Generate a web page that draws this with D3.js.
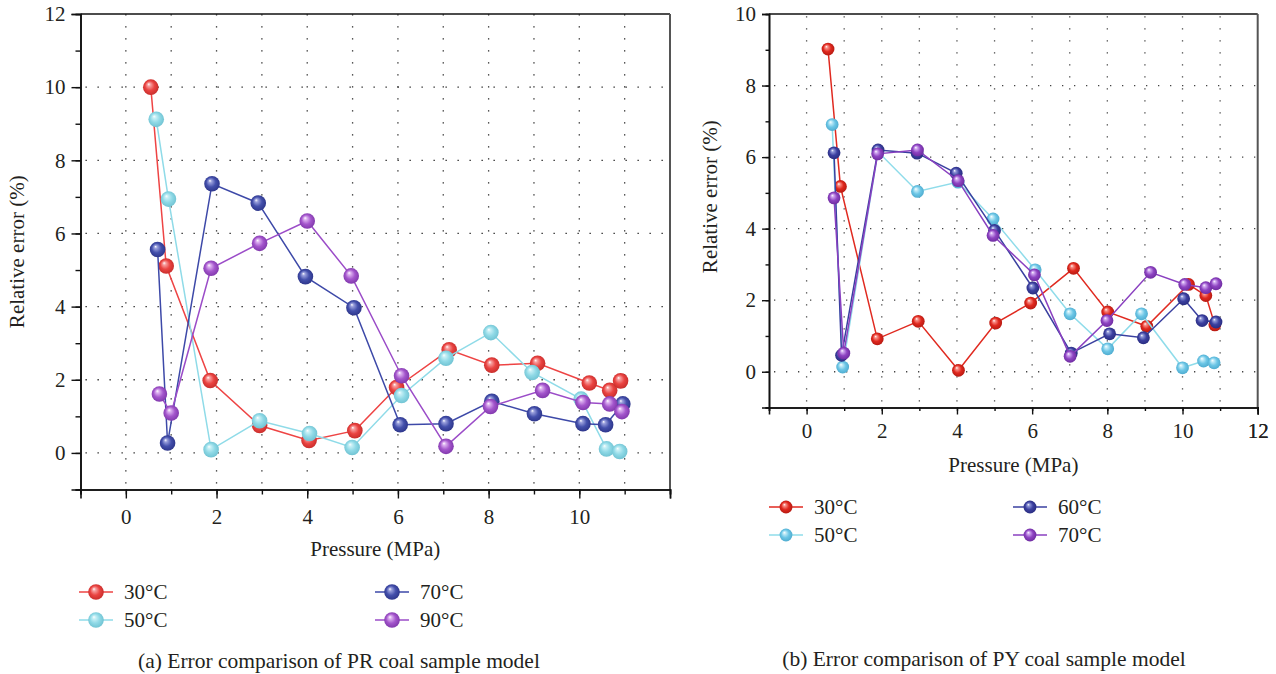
<!DOCTYPE html>
<html><head><meta charset="utf-8">
<script src="https://cdn.jsdelivr.net/npm/d3@7/dist/d3.min.js"></script>
<style>
body{margin:0;background:#fff;}
svg text{font-family:"Liberation Serif","Times New Roman",serif;fill:#231f20;}
</style></head>
<body><svg id="c" width="1276" height="674"></svg>
<script>
// ---------- DATA ----------
// Chart (a): PR coal sample model
const prLabels = ["30°C","50°C","70°C","90°C"];
const pr30x = [0.55,0.89,1.86,2.95,4.04,5.05,5.97,7.13,8.07,9.08,10.22,10.67,10.91];
const pr30y = [10.0,5.11,1.98,0.75,0.34,0.61,1.79,2.82,2.40,2.45,1.91,1.71,1.97];
const pr50x = [0.67,0.94,1.88,2.95,4.05,4.99,6.08,7.06,8.05,8.96,10.04,10.60,10.89];
const pr50y = [9.12,6.94,0.09,0.88,0.53,0.15,1.57,2.59,3.29,2.20,1.47,0.11,0.04];
const pr70x = [0.70,0.92,1.90,2.92,3.96,5.03,6.05,7.06,8.07,9.01,10.08,10.58,10.96];
const pr70y = [5.56,0.27,7.36,6.83,4.82,3.97,0.77,0.80,1.41,1.07,0.80,0.77,1.34];
const pr90x = [0.74,1.00,1.88,2.95,4.00,4.97,6.08,7.06,8.04,9.19,10.08,10.67,10.94];
const pr90y = [1.61,1.09,5.05,5.73,6.34,4.84,2.11,0.18,1.27,1.71,1.38,1.34,1.13];
// Chart (b): PY coal sample model
const pyLabels = ["30°C","50°C","60°C","70°C"];
const py30x = [0.57,0.90,1.88,2.97,4.04,5.03,5.96,7.10,8.01,9.05,10.16,10.62,10.86];
const py30y = [9.02,5.18,0.92,1.41,0.04,1.36,1.92,2.89,1.67,1.27,2.44,2.13,1.31];
const py50x = [0.68,0.96,1.90,2.95,4.03,4.96,6.08,7.01,8.01,8.91,10.00,10.56,10.84];
const py50y = [6.91,0.13,6.15,5.04,5.30,4.27,2.85,1.62,0.64,1.62,0.11,0.30,0.25];
const py60x = [0.73,0.93,1.90,2.94,3.98,5.00,6.02,7.04,8.06,8.96,10.03,10.52,10.89];
const py60y = [6.12,0.46,6.20,6.11,5.55,3.95,2.34,0.52,1.06,0.95,2.04,1.43,1.39];
const py70x = [0.73,0.99,1.89,2.95,4.03,4.96,6.06,7.01,7.99,9.15,10.06,10.62,10.89];
const py70y = [4.86,0.52,6.09,6.20,5.34,3.81,2.71,0.43,1.43,2.78,2.44,2.35,2.46];
const prXTicks = [0,2,4,6,8,10];
const pyXTicks = [0,2,4,6,8,10,12];
const prYTicks = [0,2,4,6,8,10,12];
const pyYTicks = [0,2,4,6,8,10];
const captionA = "(a) Error comparison of PR coal sample model";
const captionB = "(b) Error comparison of PY coal sample model";

// ---------- DRAW ----------
const FS = 21;
const svg = d3.select("#c");
const defs = svg.append("defs");
function ballGrad(id, light, base, dark){
  const g = defs.append("radialGradient").attr("id",id)
    .attr("cx","50%").attr("cy","50%").attr("r","55%")
    .attr("fx","36%").attr("fy","30%");
  g.append("stop").attr("offset","0%").attr("stop-color","#ffffff");
  g.append("stop").attr("offset","18%").attr("stop-color",light);
  g.append("stop").attr("offset","55%").attr("stop-color",base);
  g.append("stop").attr("offset","100%").attr("stop-color",dark);
}
const stylesA = [
  {id:"ga0", line:"#ee4444", light:"#f7a0a0", base:"#ea4442", dark:"#c42a28"},
  {id:"ga1", line:"#8fdbe8", light:"#c8f0f6", base:"#8fd9e6", dark:"#6cc0d0"},
  {id:"ga2", line:"#3d49a8", light:"#9aa0dc", base:"#4450ac", dark:"#2a3286"},
  {id:"ga3", line:"#9b4cc8", light:"#dcb0f0", base:"#a456cc", dark:"#7c34a8"}
];
const stylesB = [
  {id:"gb0", line:"#e02a20", light:"#f89088", base:"#e0281e", dark:"#b01810"},
  {id:"gb1", line:"#8fdcea", light:"#c4ecf8", base:"#6cc6e6", dark:"#4aa8cc"},
  {id:"gb2", line:"#3a40a0", light:"#9098d8", base:"#3c40a0", dark:"#262a7c"},
  {id:"gb3", line:"#8a40c0", light:"#d0a8f0", base:"#8e44c2", dark:"#6a289c"}
];
stylesA.concat(stylesB).forEach(s=>ballGrad(s.id,s.light,s.base,s.dark));

function panel(cfg){
  const x = d3.scaleLinear().domain([-1,12]).range([cfg.x0,cfg.x1]);
  const y = d3.scaleLinear().domain(cfg.ydom).range([cfg.y1,cfg.y0]);
  const g = svg.append("g");
  // grid
  const vg = d3.range(0,12);
  g.selectAll(null).data(vg).enter().append("line")
    .attr("x1",d=>x(d)).attr("x2",d=>x(d)).attr("y1",cfg.y1).attr("y2",cfg.y0)
    .attr("stroke",cfg.gridColor).attr("stroke-width",1.3).attr("stroke-dasharray","1.3,10.7")
    .attr("stroke-dashoffset",-6);
  g.selectAll(null).data(cfg.yticks.filter(d=>d>cfg.ydom[0]&&d<cfg.ydom[1])).enter().append("line")
    .attr("x1",cfg.x0).attr("x2",cfg.x1).attr("y1",d=>y(d)).attr("y2",d=>y(d))
    .attr("stroke",cfg.gridColor).attr("stroke-width",1.3).attr("stroke-dasharray","1.3,10.7")
    .attr("stroke-dashoffset",-5);
  // frame
  g.append("line").attr("x1",cfg.x0).attr("x2",cfg.x1).attr("y1",cfg.y0).attr("y2",cfg.y0)
    .attr("stroke","#111").attr("stroke-width",1.4);
  g.append("line").attr("x1",cfg.x1).attr("x2",cfg.x1).attr("y1",cfg.y0).attr("y2",cfg.y1)
    .attr("stroke","#555").attr("stroke-width",2);
  // axes
  const xMinor = d3.range(-1,13);
  const xa = g.append("g").attr("transform",`translate(0,${cfg.y1})`)
    .call(d3.axisBottom(x).tickValues(xMinor).tickSize(cfg.minor).tickFormat(""));
  const xb = g.append("g").attr("transform",`translate(0,${cfg.y1})`)
    .call(d3.axisBottom(x).tickValues(cfg.xticks.concat([12])).tickSize(cfg.major).tickPadding(cfg.xpad)
      .tickFormat(d=>cfg.xticks.includes(d)?d:""));
  const yMinor = d3.range(cfg.ydom[0],cfg.ydom[1]+1);
  const ya = g.append("g").attr("transform",`translate(${cfg.x0},0)`)
    .call(d3.axisLeft(y).tickValues(yMinor).tickSize(cfg.minor).tickFormat(""));
  const yb = g.append("g").attr("transform",`translate(${cfg.x0},0)`)
    .call(d3.axisLeft(y).tickValues(cfg.yticks).tickSize(cfg.major).tickPadding(cfg.ypad));
  [xa,xb,ya,yb].forEach(a=>{
    a.select(".domain").attr("stroke","#111").attr("stroke-width",1.6);
    a.selectAll(".tick line").attr("stroke","#111").attr("stroke-width",1.4);
    a.selectAll("text").attr("font-family","Liberation Serif").attr("font-size",FS).attr("fill","#231f20");
  });
  // titles
  g.append("text").attr("x",(cfg.x0+cfg.x1)/2).attr("y",cfg.xTitleY).attr("text-anchor","middle")
    .attr("font-size",FS).text("Pressure (MPa)");
  g.append("text").attr("transform",`translate(${cfg.yTitleX},${(cfg.y0+cfg.y1)/2 - cfg.yTitleShift}) rotate(-90)`)
    .attr("text-anchor","middle").attr("font-size",FS).text("Relative error (%)");
  // series
  const line = d3.line().x(d=>x(d[0])).y(d=>y(d[1]));
  cfg.series.forEach((s,i)=>{
    const st = cfg.styles[i];
    const pts = s.xs.map((v,k)=>[v,s.ys[k]]);
    g.append("path").datum(pts).attr("d",line).attr("fill","none")
      .attr("stroke",st.line).attr("stroke-width",1.5);
    g.selectAll(null).data(pts).enter().append("circle")
      .attr("cx",d=>x(d[0])).attr("cy",d=>y(d[1])).attr("r",cfg.r)
      .attr("fill",`url(#${st.id})`);
  });
  // legend
  cfg.series.forEach((s,i)=>{
    const st = cfg.styles[i];
    const col = Math.floor(i/2), row = i%2;
    const lx = cfg.legX[col], ly = cfg.legY[row];
    g.append("line").attr("x1",lx).attr("x2",lx+34).attr("y1",ly).attr("y2",ly)
      .attr("stroke",st.line).attr("stroke-width",1.5);
    g.append("circle").attr("cx",lx+17).attr("cy",ly).attr("r",cfg.r).attr("fill",`url(#${st.id})`);
    g.append("text").attr("x",lx+45).attr("y",ly).attr("dy","0.35em").attr("font-size",FS).text(s.label);
  });
  g.append("text").attr("x",cfg.capX).attr("y",cfg.capY).attr("text-anchor","middle")
    .attr("font-size",21.5).text(cfg.caption);
}

panel({
  x0:80.5, x1:670, y0:14, y1:489.5, ydom:[-1,12], xticks:prXTicks, yticks:prYTicks,
  major:9, minor:5, xpad:11, ypad:6, r:7.8, gridColor:"#222",
  xTitleY:556, yTitleX:24, yTitleShift:0,
  styles:stylesA,
  series:[
    {label:prLabels[0], xs:pr30x, ys:pr30y},
    {label:prLabels[1], xs:pr50x, ys:pr50y},
    {label:prLabels[2], xs:pr70x, ys:pr70y},
    {label:prLabels[3], xs:pr90x, ys:pr90y}
  ],
  legX:[79,375], legY:[592,620], caption:captionA, capX:339, capY:668
});
panel({
  x0:769, x1:1257.7, y0:14, y1:407.5, ydom:[-1,10], xticks:pyXTicks, yticks:pyYTicks,
  major:7, minor:3.5, xpad:9, ypad:6, r:6.4, gridColor:"#444",
  xTitleY:472, yTitleX:717, yTitleShift:14,
  styles:stylesB,
  series:[
    {label:pyLabels[0], xs:py30x, ys:py30y},
    {label:pyLabels[1], xs:py50x, ys:py50y},
    {label:pyLabels[2], xs:py60x, ys:py60y},
    {label:pyLabels[3], xs:py70x, ys:py70y}
  ],
  legX:[769,1013], legY:[507,535], caption:captionB, capX:984, capY:666
});
</script></body></html>
